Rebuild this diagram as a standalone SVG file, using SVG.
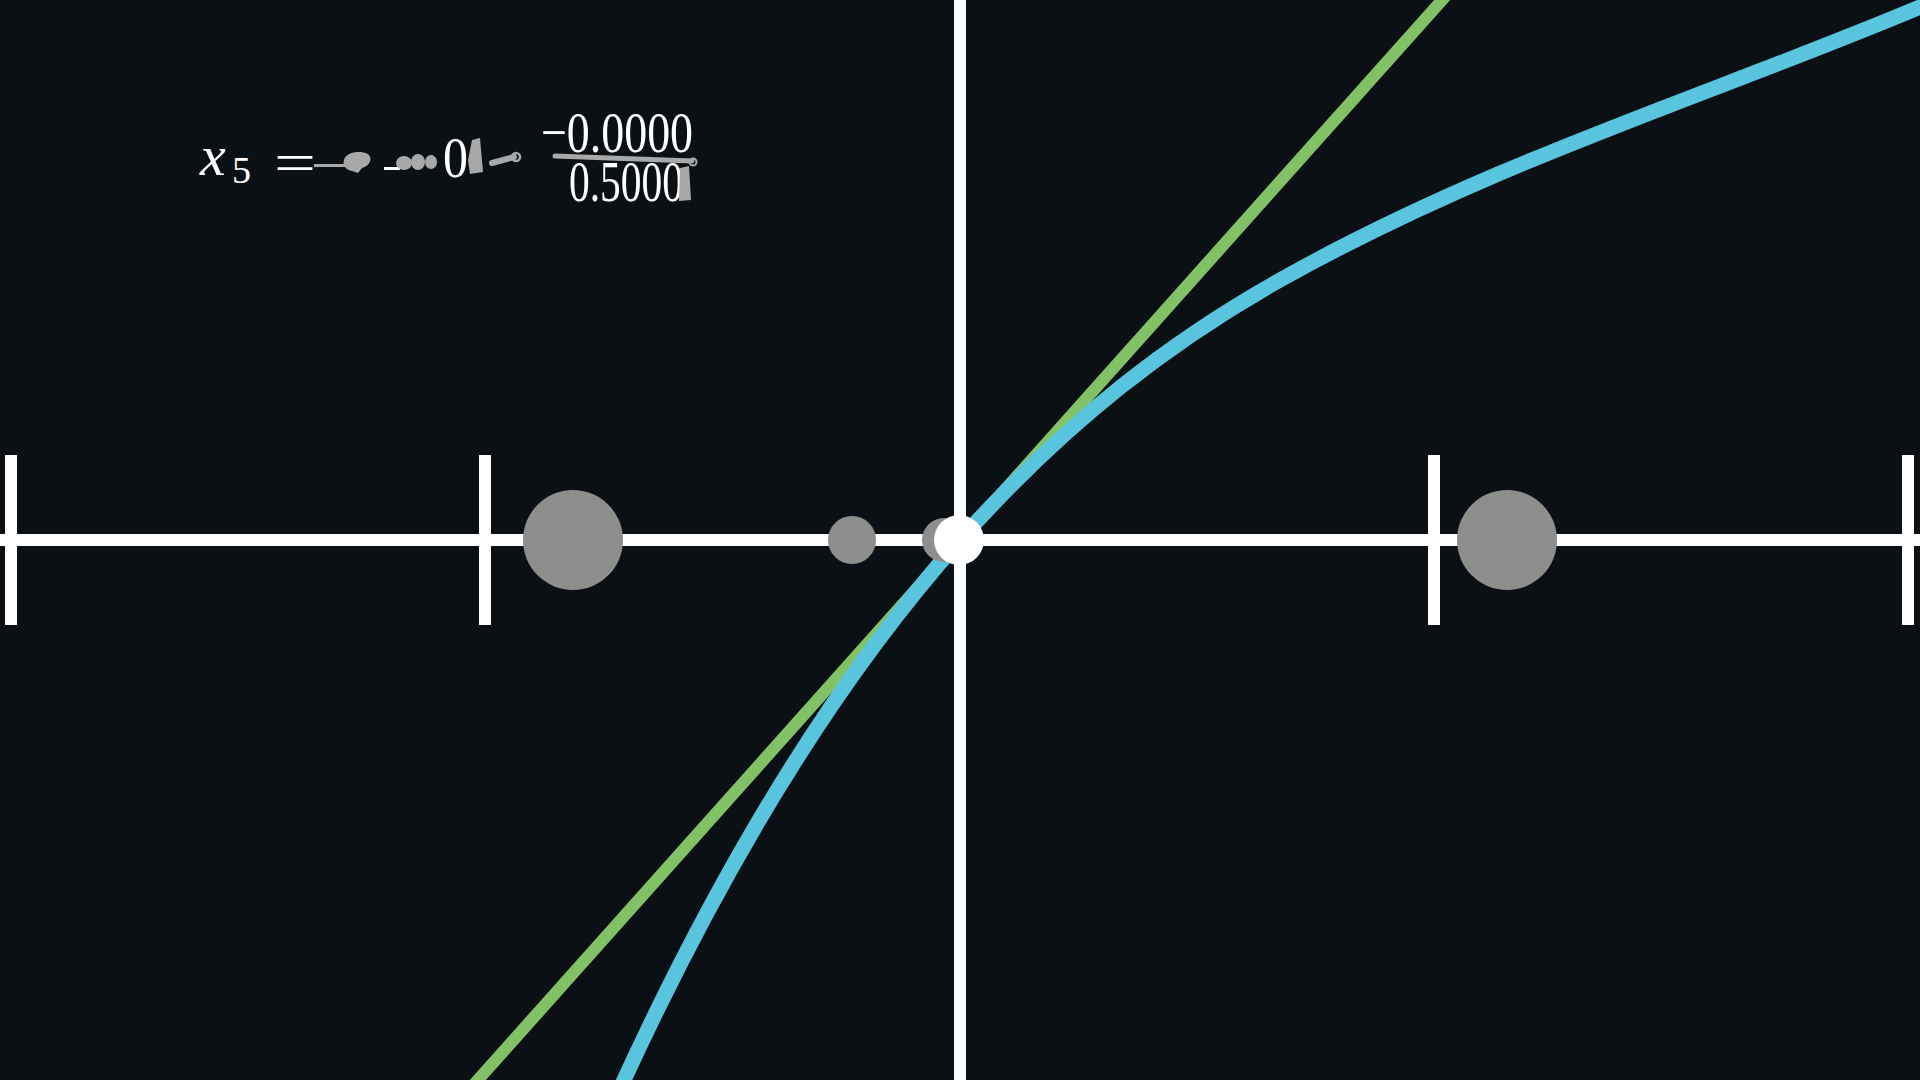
<svg xmlns="http://www.w3.org/2000/svg" width="1920" height="1080" viewBox="0 0 1920 1080">
  <style>
    .axis { stroke: #ffffff; stroke-width: 12; fill: none; }
    .tick { fill: #ffffff; }
    .dot { fill: #8e8e8c; }
    .tex { font-family: "Liberation Serif", "DejaVu Serif", serif; fill: #ffffff; }
    .blob { fill: #a8a8a8; }
    .blobline { stroke: #a8a8a8; fill: none; stroke-linecap: round; }
  </style>
  <rect x="0" y="0" width="1920" height="1080" fill="#0b1014"/>

  <g id="axes">
    <line class="axis" x1="0" y1="540" x2="1920" y2="540"/>
    <line class="axis" x1="960" y1="0" x2="960" y2="1080" stroke-width="11"/>
    <rect class="tick" x="5" y="455" width="12" height="170"/>
    <rect class="tick" x="479" y="455" width="12" height="170"/>
    <rect class="tick" x="1428" y="455" width="12" height="170"/>
    <rect class="tick" x="1902" y="455" width="12" height="170"/>
  </g>

  <g id="curves">
    <line id="tangent" x1="460" y1="1100" x2="1460" y2="-20" stroke="#83c167" stroke-width="12"/>
    <path id="graph" fill="none" stroke="#58c4dd" stroke-width="15" stroke-linejoin="round"
      d="M615,1099.7 C730,846.2 845,668.8 960,540 C1067,420 1173,340 1280,280 C1493,160.7 1707,96.5 1920,7 L1960,-10"/>
  </g>

  <g id="dots">
    <circle class="dot" cx="573" cy="540" r="50"/>
    <circle class="dot" cx="1507" cy="540" r="50"/>
    <circle class="dot" cx="852" cy="540" r="24"/>
    <circle class="dot" cx="944" cy="540" r="22"/>
    <circle cx="959" cy="540" r="25" fill="#ffffff"/>
  </g>

  <g id="formula">
    <text class="tex" x="200" y="175" font-size="58" font-style="italic">x</text>
    <text class="tex" x="232" y="183" font-size="38">5</text>
    <text class="tex" x="274" y="182" font-size="58" textLength="42" lengthAdjust="spacingAndGlyphs">=</text>
    <rect class="blob" x="314" y="164" width="32" height="3"/>
    <path class="blob" d="M344,160 C346,152 360,150 368,154 C373,158 370,166 362,168 L358,173 L352,171 C347,170 342,166 344,160 Z"/>
    <rect x="384" y="167" width="16" height="3" fill="#ffffff"/>
    <ellipse class="blob" cx="404" cy="163" rx="8" ry="7"/>
    <ellipse class="blob" cx="418" cy="162" rx="7" ry="8"/>
    <ellipse class="blob" cx="431" cy="162" rx="6" ry="7"/>
    <text class="tex" x="443" y="177" font-size="58" textLength="25" lengthAdjust="spacingAndGlyphs">0</text>
    <path class="blob" d="M472,140 L480,138 L483,172 L470,174 L468,160 Z"/>
    <line class="blobline" x1="492" y1="163" x2="514" y2="157" stroke-width="6"/>
    <circle cx="516" cy="157" r="4" fill="none" stroke="#a8a8a8" stroke-width="2.5"/>
    <text class="tex" x="541" y="152" font-size="58" textLength="152" lengthAdjust="spacingAndGlyphs">−0.0000</text>
    <line class="blobline" x1="555" y1="156" x2="692" y2="161" stroke-width="5"/>
    <circle cx="693" cy="162" r="3.5" fill="none" stroke="#a8a8a8" stroke-width="2"/>
    <text class="tex" x="569" y="201" font-size="56" textLength="114" lengthAdjust="spacingAndGlyphs">0.5000</text>
    <path class="blob" d="M680,168 L689,166 L691,200 L679,201 Z"/>
  </g>
</svg>
